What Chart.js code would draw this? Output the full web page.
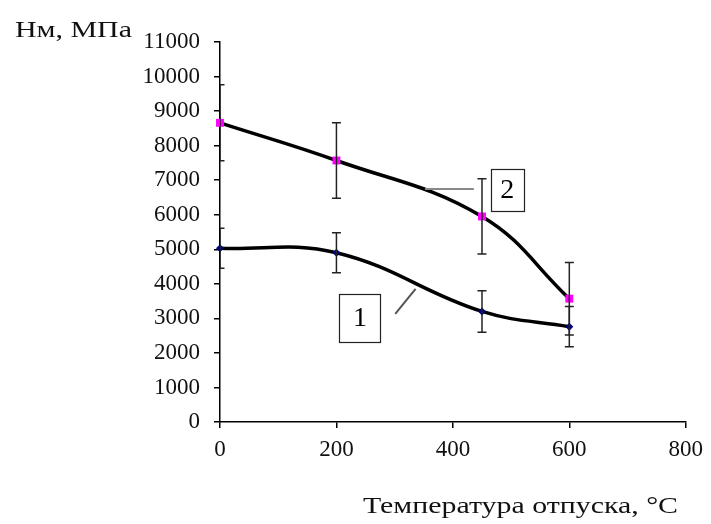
<!DOCTYPE html>
<html>
<head>
<meta charset="utf-8">
<script src="https://cdn.jsdelivr.net/npm/chart.js@4"></script>
<style>
  html, body { margin: 0; padding: 0; background: #fff; }
  #wrap { width: 711px; height: 524px; position: relative; }
</style>
</head>
<body>
<div id="wrap"><canvas id="chart"></canvas></div>
<script>
// temperature, °C
const temps = [0, 200, 450, 600];
// series 1 and 2, MPa
const series1 = [5030, 4900, 3200, 2760];
const series2 = [8660, 7570, 5950, 3570];
// error bar half-widths
const err1 = [580, 580, 600, 580];
const err2 = [1100, 1090, 1090, 1050];

const xTicks = [0, 200, 400, 600, 800];
const yMax = 11000;

const FONT = "'Liberation Serif', 'Times New Roman', serif";

// error bars, drawn through the scales
const errorBars = {
  id: 'errorBars',
  afterDatasetsDraw(chart) {
    const {ctx, chartArea, scales: {x, y}} = chart;
    ctx.save();
    ctx.beginPath();
    ctx.rect(chartArea.left, chartArea.top - 1, chartArea.right - chartArea.left, chartArea.bottom - chartArea.top + 2);
    ctx.clip();
    ctx.strokeStyle = '#222';
    ctx.lineWidth = 1.5;
    const sets = [[series1, err1], [series2, err2]];
    sets.forEach(([vals, errs]) => {
      vals.forEach((v, i) => {
        const px = x.getPixelForValue(temps[i]);
        const top = y.getPixelForValue(v + errs[i]);
        const bot = y.getPixelForValue(v - errs[i]);
        ctx.beginPath();
        ctx.moveTo(px, top); ctx.lineTo(px, bot);
        ctx.moveTo(px - 4.5, top); ctx.lineTo(px + 4.5, top);
        ctx.moveTo(px - 4.5, bot); ctx.lineTo(px + 4.5, bot);
        ctx.stroke();
      });
    });
    ctx.restore();
  }
};

// curve labels "1" and "2" with leader lines, placed in data units
const callouts = [
  {text: '1', box: [205, 276, 3710, 2320], line: [[301, 3130], [336, 3855]], lineColor: '#555'},
  {text: '2', box: [465, 522, 7330, 6115], line: [[352, 6745], [436, 6745]], lineColor: '#888'}
];

// draw text stretched to fit between left and right
const fitText = (ctx, text, left, right, baseline) => {
  const w = ctx.measureText(text).width;
  ctx.save();
  ctx.translate(left, baseline);
  ctx.scale((right - left) / w, 1);
  ctx.textAlign = 'left';
  ctx.fillText(text, 0, 0);
  ctx.restore();
};

const labels = {
  id: 'labels',
  afterDraw(chart) {
    const {ctx, scales: {x, y}} = chart;
    ctx.save();
    callouts.forEach((c) => {
      ctx.strokeStyle = c.lineColor;
      ctx.lineWidth = 2;
      ctx.beginPath();
      ctx.moveTo(x.getPixelForValue(c.line[0][0]), y.getPixelForValue(c.line[0][1]));
      ctx.lineTo(x.getPixelForValue(c.line[1][0]), y.getPixelForValue(c.line[1][1]));
      ctx.stroke();
      const l = x.getPixelForValue(c.box[0]);
      const r = x.getPixelForValue(c.box[1]);
      const t = y.getPixelForValue(c.box[2]);
      const b = y.getPixelForValue(c.box[3]);
      ctx.fillStyle = '#fff';
      ctx.fillRect(l, t, r - l, b - t);
      ctx.strokeStyle = '#222';
      ctx.lineWidth = 1.2;
      ctx.strokeRect(Math.round(l) + 0.5, Math.round(t) + 0.5, Math.round(r - l), Math.round(b - t));
      ctx.fillStyle = '#000';
      ctx.font = '28px ' + FONT;
      ctx.textAlign = 'center';
      ctx.textBaseline = 'middle';
      ctx.fillText(c.text, (l + r) / 2, (t + b) / 2 + 1);
    });
    ctx.fillStyle = '#111';
    ctx.font = '24px ' + FONT;
    ctx.textBaseline = 'alphabetic';
    fitText(ctx, 'Нм, МПа', 15, 132, 37);
    fitText(ctx, 'Температура отпуска, °C', 363, 678, 513);
    ctx.restore();
  }
};

new Chart(document.getElementById('chart'), {
  type: 'line',
  data: {
    datasets: [
      {
        label: '1',
        data: temps.map((t, i) => ({x: t, y: series1[i]})),
        borderColor: '#000',
        borderWidth: 3.5,
        tension: 0.4,
        pointStyle: 'rectRot',
        pointRadius: 4,
        pointBackgroundColor: '#000080',
        pointBorderColor: '#000080',
        pointBorderWidth: 0,
        clip: false
      },
      {
        label: '2',
        data: temps.map((t, i) => ({x: t, y: series2[i]})),
        borderColor: '#000',
        borderWidth: 3.5,
        tension: 0.4,
        pointStyle: 'rect',
        pointRadius: 5.6,
        pointBackgroundColor: '#ff00ff',
        pointBorderColor: '#ff00ff',
        pointBorderWidth: 0,
        clip: false
      }
    ]
  },
  options: {
    responsive: true,
    maintainAspectRatio: false,
    animation: false,
    events: [],
    layout: {padding: {left: 0, right: 22, top: 42, bottom: 0}},
    plugins: {legend: {display: false}, tooltip: {enabled: false}},
    scales: {
      x: {
        type: 'linear',
        min: 0,
        max: 800,
        afterBuildTicks: (scale) => { scale.ticks = xTicks.map((v) => ({value: v})); },
        afterFit: (scale) => { scale.height = 102; },
        grid: {display: true, drawOnChartArea: false, drawTicks: true, tickLength: 6, color: '#000', lineWidth: 1.5},
        border: {display: true, color: '#000', width: 1.5},
        ticks: {color: '#111', font: {family: FONT, size: 23}, padding: 8, maxRotation: 0, callback: (v) => String(v)}
      },
      y: {
        min: 0,
        max: yMax,
        afterFit: (scale) => { scale.width = 220; },
        grid: {display: true, drawOnChartArea: false, drawTicks: true, tickLength: 6, color: '#000', lineWidth: 1.5},
        border: {display: true, color: '#000', width: 1.5},
        ticks: {stepSize: 1000, color: '#111', font: {family: FONT, size: 23}, padding: 14, autoSkip: false, callback: (v) => String(v)}
      }
    }
  },
  plugins: [errorBars, labels]
});
</script>
</body>
</html>
